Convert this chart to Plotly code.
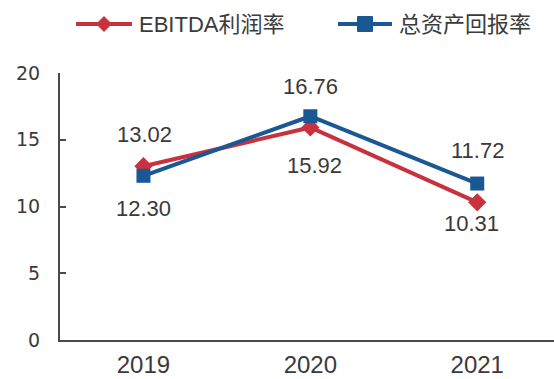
import plotly.graph_objects as go

# Chart data
years = ["2019", "2020", "2021"]
ebitda_margin = [13.02, 15.92, 10.31]
roa = [12.30, 16.76, 11.72]
y_ticks = [0, 5, 10, 15, 20]
series_names = ["EBITDA利润率", "总资产回报率"]

# Label offsets (px) for the value annotations of each series
ebitda_label_dy = [32, -38, -21]
ebitda_label_dx = [1, 4, -6]
roa_label_dy = [-33, 30, 33]
roa_label_dx = [0, 0, 0]

RED = "#C8323F"
BLUE = "#1A5894"
TEXT = "#3a3a3a"
AXIS = "#4a4a4a"

# Figure geometry (px)
FIG_W, FIG_H = 554, 379
M_L, M_R, M_T, M_B = 60, 0, 73, 39
PLOT_W = FIG_W - M_L - M_R
PLOT_H = FIG_H - M_T - M_B


def px_x(px):
    """Horizontal pixel position -> paper coordinate."""
    return (px - M_L) / PLOT_W


def px_y(py):
    """Vertical pixel position (from top) -> paper coordinate."""
    return (FIG_H - M_B - py) / PLOT_H


fig = go.Figure()
fig.add_trace(go.Scatter(
    x=years, y=ebitda_margin, name=series_names[0], mode="lines+markers",
    line=dict(color=RED, width=4),
    marker=dict(symbol="diamond", size=14, color=RED),
))
fig.add_trace(go.Scatter(
    x=years, y=roa, name=series_names[1], mode="lines+markers",
    line=dict(color=BLUE, width=4),
    marker=dict(symbol="square", size=14, color=BLUE),
))

fig.update_layout(
    width=FIG_W, height=FIG_H,
    margin=dict(l=M_L, r=M_R, t=M_T, b=M_B, autoexpand=False),
    paper_bgcolor="white", plot_bgcolor="white",
    showlegend=False,
    xaxis=dict(
        type="category", range=[-0.5, 2.46], automargin=False,
        showline=True, linecolor=AXIS, linewidth=2,
        ticks="", showgrid=False, zeroline=False,
        tickfont=dict(family="Liberation Sans", size=24, color=TEXT),
        ticklabelstandoff=2,
    ),
    yaxis=dict(
        range=[0, 20], tickvals=y_ticks, automargin=False,
        showline=True, linecolor=AXIS, linewidth=2,
        ticks="inside", ticklen=6, tickwidth=2, tickcolor=AXIS,
        showgrid=False, zeroline=False,
        tickfont=dict(family="DejaVu Sans", size=19, color=TEXT),
        ticklabelstandoff=14,
    ),
)

# Value labels for each point
for ys, dys, dxs in ((ebitda_margin, ebitda_label_dy, ebitda_label_dx),
                     (roa, roa_label_dy, roa_label_dx)):
    for i, (y, dy, dx) in enumerate(zip(ys, dys, dxs)):
        fig.add_annotation(
            x=i, y=y, xref="x", yref="y", text="%.2f" % y, showarrow=False,
            yshift=dy, xshift=dx,
            font=dict(family="Liberation Sans", size=22, color=TEXT),
        )

# Legend drawn as shapes + text across the top
LEG_Y = 24
legend_items = [
    # (name, colour, line start px, line end px, text start px, marker)
    (series_names[0], RED, 76, 132, 137, "diamond"),
    (series_names[1], BLUE, 338, 392, 397, "square"),
]
for name, color, x0, x1, tx, mk in legend_items:
    fig.add_shape(type="line", xref="paper", yref="paper",
                  x0=px_x(x0), x1=px_x(x1), y0=px_y(LEG_Y), y1=px_y(LEG_Y),
                  line=dict(color=color, width=4))
    cx = (x0 + x1) / 2
    h = 7.5
    if mk == "diamond":
        path = "M {a},{b} L {c},{d} L {a},{e} L {f},{d} Z".format(
            a=px_x(cx), b=px_y(LEG_Y - h), c=px_x(cx + h), d=px_y(LEG_Y),
            e=px_y(LEG_Y + h), f=px_x(cx - h))
        fig.add_shape(type="path", xref="paper", yref="paper", path=path,
                      fillcolor=color, line=dict(color=color, width=1))
    else:
        fig.add_shape(type="rect", xref="paper", yref="paper",
                      x0=px_x(cx - h), x1=px_x(cx + h),
                      y0=px_y(LEG_Y + h), y1=px_y(LEG_Y - h),
                      fillcolor=color, line=dict(color=color, width=1))
    fig.add_annotation(
        x=px_x(tx), y=px_y(LEG_Y), xref="paper", yref="paper",
        xanchor="left", yanchor="middle", text=name, showarrow=False,
        font=dict(family="Liberation Sans, Noto Sans CJK SC", size=22, color=TEXT),
    )

fig.write_html("out.html")
